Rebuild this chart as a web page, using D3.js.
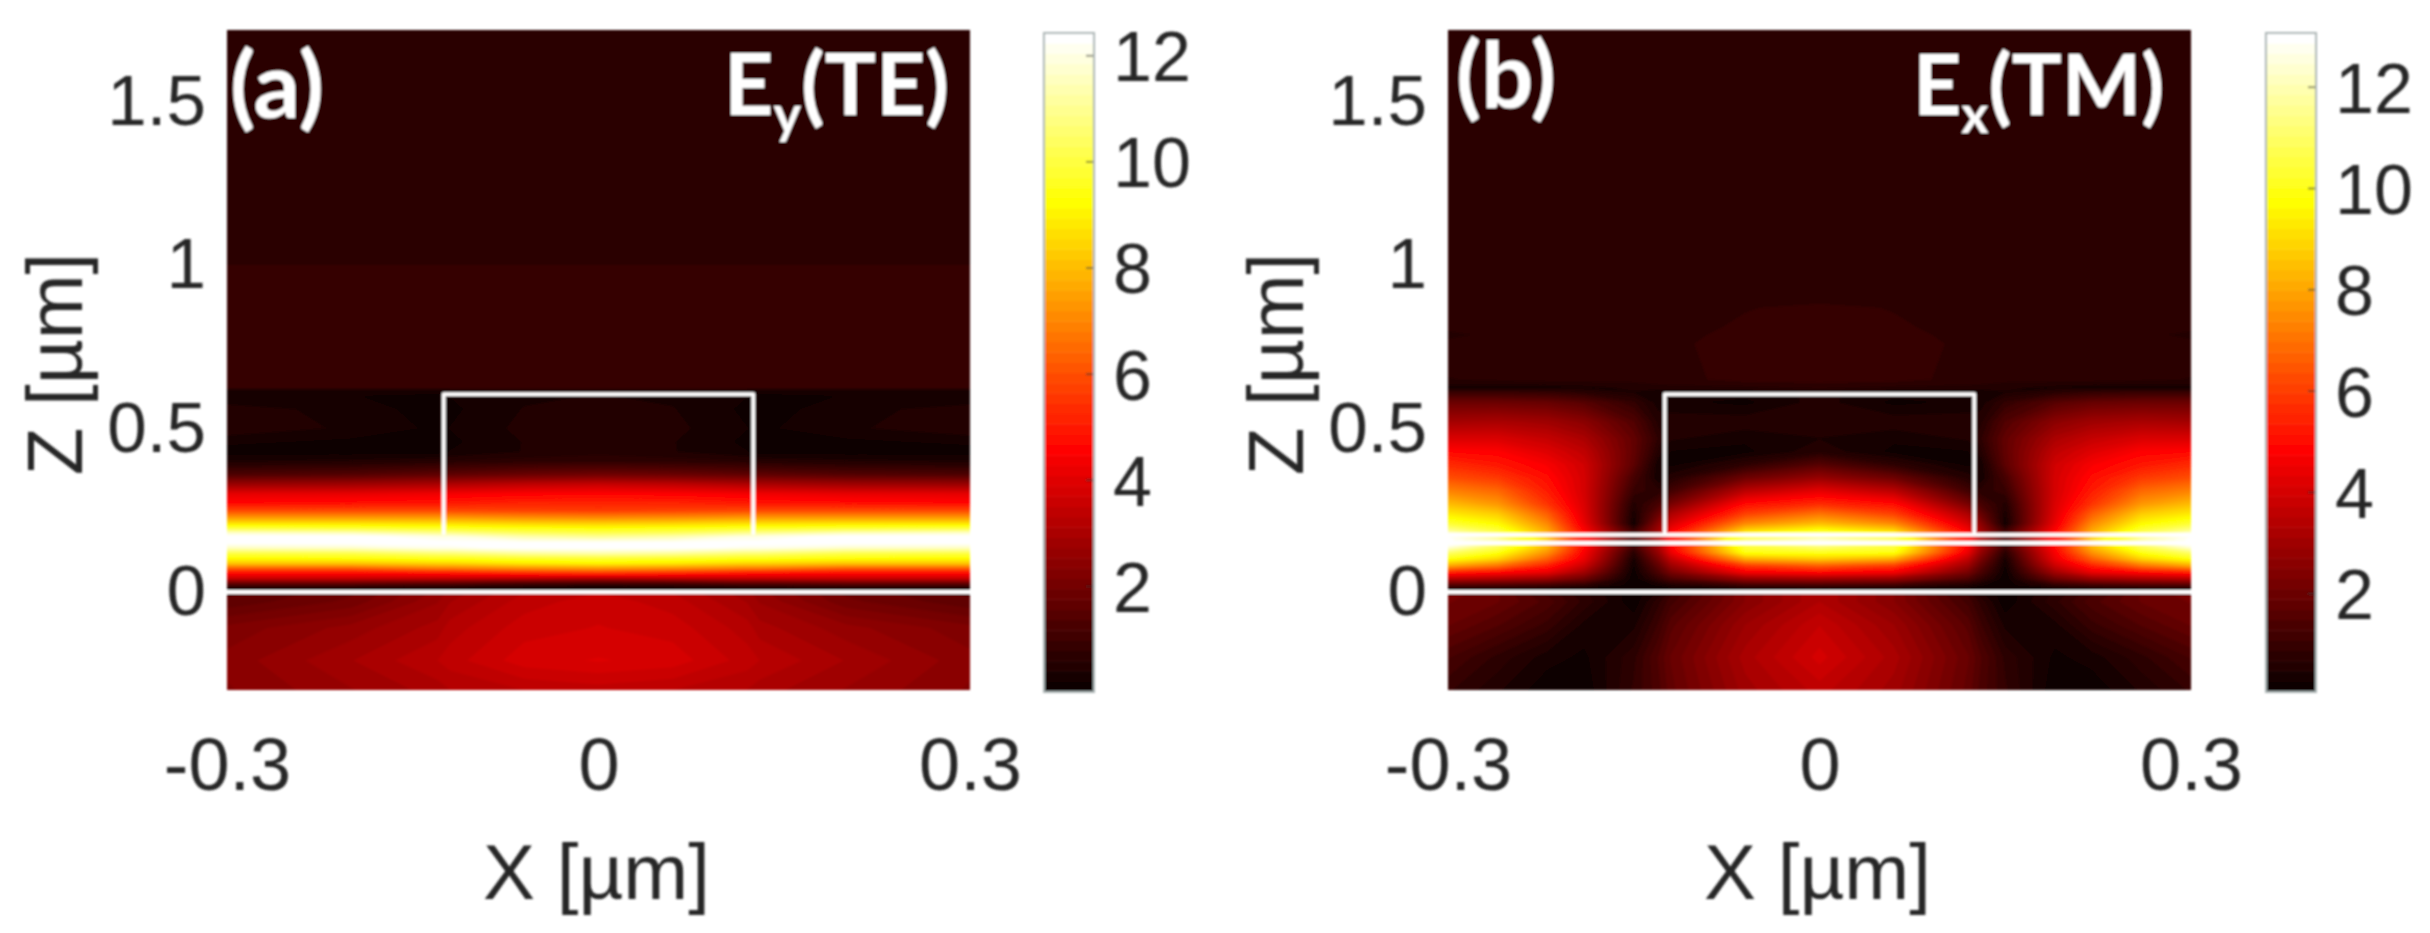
<!DOCTYPE html>
<html>
<head>
<meta charset="utf-8">
<script src="https://cdn.jsdelivr.net/npm/d3@7"></script>
<style>
  html, body { margin: 0; background: #fff; }
  text { font-family: "Liberation Sans", Arial, sans-serif; fill: #262626; }
  .note { font-family: Lato, sans-serif; font-weight: 700; fill: #fff; }
</style>
</head>
<body>
<div id="chart"></div>
<script>
const xTicks = [-0.3, 0, 0.3]
const zTicks = [0, 0.5, 1, 1.5]
const barTicks = [2, 4, 6, 8, 10, 12]
const rectX = [-0.125, 0.125]
const rectZ = [0.175, 0.605]

// |E|, rows top to bottom
const xA = [-0.3, -0.2, -0.13, -0.12, -0.06, 0, 0.06, 0.12, 0.13, 0.2, 0.3]
const zA = [1.72, 1.01, 0.99, 0.625, 0.618, 0.6, 0.56, 0.5, 0.46, 0.43, 0.4, 0.36, 0.33, 0.3, 0.275, 0.25, 0.23, 0.21, 0.195, 0.18, 0.17, 0.15, 0.135, 0.118, 0.103, 0.087, 0.073, 0.057, 0.042, 0.027, 0.012, 0.004, -0.004, -0.03, -0.11, -0.21, -0.3]
const fieldA = [
  [0.7, 0.7, 0.7, 0.7, 0.7, 0.7, 0.7, 0.7, 0.7, 0.7, 0.7],
  [0.7, 0.7, 0.7, 0.7, 0.7, 0.7, 0.7, 0.7, 0.7, 0.7, 0.7],
  [0.9, 0.9, 0.9, 0.9, 0.9, 0.9, 0.9, 0.9, 0.9, 0.9, 0.9],
  [0.9, 0.9, 0.9, 0.9, 0.9, 0.9, 0.9, 0.9, 0.9, 0.9, 0.9],
  [0.3, 0.3, 0.3, 0.4, 0.45, 0.5, 0.45, 0.4, 0.3, 0.3, 0.3],
  [0.2, 0.2, 0.15, 0.2, 0.35, 0.4, 0.35, 0.2, 0.15, 0.2, 0.2],
  [0.5, 0.3, 0.1, 0.15, 0.4, 0.5, 0.4, 0.15, 0.1, 0.3, 0.5],
  [0.55, 0.35, 0.15, 0.2, 0.45, 0.5, 0.45, 0.2, 0.15, 0.35, 0.55],
  [0.25, 0.15, 0.1, 0.15, 0.4, 0.45, 0.4, 0.15, 0.1, 0.15, 0.25],
  [0.1, 0.1, 0.1, 0.2, 0.4, 0.5, 0.4, 0.2, 0.1, 0.1, 0.1],
  [0.4, 0.45, 0.55, 0.6, 0.7, 0.75, 0.7, 0.6, 0.55, 0.45, 0.4],
  [1.3, 1.4, 1.6, 1.6, 1.8, 1.9, 1.8, 1.6, 1.6, 1.4, 1.3],
  [2.7, 2.8, 3.0, 3.1, 3.35, 3.5, 3.35, 3.1, 3.0, 2.8, 2.7],
  [4.1, 4.15, 4.3, 4.4, 4.55, 4.6, 4.55, 4.4, 4.3, 4.15, 4.1],
  [4.6, 4.7, 4.8, 4.9, 5.1, 5.1, 5.1, 4.9, 4.8, 4.7, 4.6],
  [5.8, 5.8, 5.8, 5.8, 5.7, 5.6, 5.7, 5.8, 5.8, 5.8, 5.8],
  [7.2, 7.2, 7.2, 7.2, 7.0, 6.9, 7.0, 7.2, 7.2, 7.2, 7.2],
  [8.7, 8.7, 8.6, 8.6, 8.4, 8.3, 8.4, 8.6, 8.6, 8.7, 8.7],
  [9.9, 9.8, 9.6, 9.6, 9.4, 9.3, 9.4, 9.6, 9.6, 9.8, 9.9],
  [11.8, 11.6, 11, 11, 10.4, 10.2, 10.4, 11, 11, 11.6, 11.8],
  [12.4, 12.4, 12, 12, 11.3, 11, 11.3, 12, 12, 12.4, 12.4],
  [12.4, 12.4, 12.4, 12.4, 12.4, 12.4, 12.4, 12.4, 12.4, 12.4, 12.4],
  [11.6, 11.7, 12.1, 12.1, 12.4, 12.4, 12.4, 12.1, 12.1, 11.7, 11.6],
  [10, 10.1, 10.6, 10.6, 11.1, 11.3, 11.1, 10.6, 10.6, 10.1, 10],
  [9.2, 9.3, 9.5, 9.5, 9.7, 9.8, 9.7, 9.5, 9.5, 9.3, 9.2],
  [8.1, 8.1, 8.4, 8.4, 8.8, 9, 8.8, 8.4, 8.4, 8.1, 8.1],
  [6.3, 6.3, 6.9, 6.9, 7.2, 7.4, 7.2, 6.9, 6.9, 6.3, 6.3],
  [4.6, 4.6, 4.8, 4.8, 5.2, 5.4, 5.2, 4.8, 4.8, 4.6, 4.6],
  [3.6, 3.6, 3.5, 3.5, 3.3, 3.1, 3.3, 3.5, 3.5, 3.6, 3.6],
  [1.8, 1.8, 1.6, 1.6, 1.3, 1.2, 1.3, 1.6, 1.6, 1.8, 1.8],
  [0.35, 0.35, 0.25, 0.25, 0.1, 0.05, 0.1, 0.25, 0.25, 0.35, 0.35],
  [0.6, 0.6, 0.7, 0.7, 0.8, 0.9, 0.8, 0.7, 0.7, 0.6, 0.6],
  [1.5, 1.9, 2.6, 2.8, 3.3, 3.5, 3.3, 2.8, 2.6, 1.9, 1.5],
  [1.6, 2.0, 2.7, 2.9, 3.4, 3.6, 3.4, 2.9, 2.7, 2.0, 1.6],
  [2.2, 2.6, 3.0, 3.2, 3.6, 3.7, 3.6, 3.2, 3.0, 2.6, 2.2],
  [2.4, 2.9, 3.3, 3.4, 3.8, 3.9, 3.8, 3.4, 3.3, 2.9, 2.4],
  [2.3, 2.7, 3.0, 3.1, 3.3, 3.4, 3.3, 3.1, 3.0, 2.7, 2.3]
]

// |E|, rows top to bottom
const xB = [-0.3, -0.26, -0.22, -0.19, -0.15, -0.13, -0.12, -0.06, 0, 0.06, 0.12, 0.13, 0.15, 0.19, 0.22, 0.26, 0.3]
const zB = [1.72, 0.9, 0.87, 0.81, 0.787, 0.76, 0.65, 0.625, 0.612, 0.58, 0.52, 0.47, 0.43, 0.39, 0.35, 0.31, 0.27, 0.24, 0.21, 0.19, 0.175, 0.16, 0.14, 0.12, 0.1, 0.08, 0.06, 0.04, 0.02, 0.008, -0.004, -0.03, -0.1, -0.2, -0.3]
const fieldB = [
  [0.78, 0.78, 0.78, 0.78, 0.78, 0.78, 0.78, 0.78, 0.78, 0.78, 0.78, 0.78, 0.78, 0.78, 0.78, 0.78, 0.78],
  [0.78, 0.78, 0.78, 0.78, 0.78, 0.78, 0.78, 0.78, 0.78, 0.78, 0.78, 0.78, 0.78, 0.78, 0.78, 0.78, 0.78],
  [0.78, 0.78, 0.78, 0.78, 0.78, 0.78, 0.78, 0.85, 0.92, 0.85, 0.78, 0.78, 0.78, 0.78, 0.78, 0.78, 0.78],
  [0.78, 0.78, 0.78, 0.78, 0.78, 0.78, 0.78, 0.9, 0.98, 0.9, 0.78, 0.78, 0.78, 0.78, 0.78, 0.78, 0.78],
  [0.55, 0.78, 0.78, 0.78, 0.78, 0.78, 0.78, 0.95, 1.0, 0.95, 0.78, 0.78, 0.78, 0.78, 0.78, 0.78, 0.55],
  [0.78, 0.78, 0.78, 0.78, 0.78, 0.78, 0.8, 1.0, 1.0, 1.0, 0.8, 0.78, 0.78, 0.78, 0.78, 0.78, 0.78],
  [0.65, 0.7, 0.75, 0.75, 0.75, 0.75, 0.78, 0.95, 0.98, 0.95, 0.78, 0.75, 0.75, 0.75, 0.75, 0.7, 0.65],
  [0.35, 0.35, 0.35, 0.4, 0.5, 0.6, 0.6, 0.6, 0.7, 0.6, 0.6, 0.6, 0.5, 0.4, 0.35, 0.35, 0.35],
  [1.0, 1.0, 0.9, 0.7, 0.45, 0.3, 0.3, 0.35, 0.5, 0.35, 0.3, 0.3, 0.45, 0.7, 0.9, 1.0, 1.0],
  [2.0, 2.0, 1.9, 1.6, 0.9, 0.35, 0.3, 0.2, 0.55, 0.2, 0.3, 0.35, 0.9, 1.6, 1.9, 2.0, 2.0],
  [3.1, 3.2, 3.0, 2.6, 1.5, 0.6, 0.6, 0.6, 0.65, 0.6, 0.6, 0.6, 1.5, 2.6, 3.0, 3.2, 3.1],
  [4.1, 4.1, 3.7, 3.2, 1.8, 0.8, 0.5, 0.3, 0.45, 0.3, 0.5, 0.8, 1.8, 3.2, 3.7, 4.1, 4.1],
  [4.9, 4.8, 4.2, 3.6, 1.8, 0.6, 0.25, 0.2, 0.6, 0.2, 0.25, 0.6, 1.8, 3.6, 4.2, 4.8, 4.9],
  [5.6, 5.2, 4.7, 3.9, 1.7, 0.3, 0.2, 0.8, 1.6, 0.8, 0.2, 0.3, 1.7, 3.9, 4.7, 5.2, 5.6],
  [6.3, 5.9, 5.0, 4.0, 1.3, 0.3, 0.6, 2.0, 2.8, 2.0, 0.6, 0.3, 1.3, 4.0, 5.0, 5.9, 6.3],
  [7.3, 6.8, 5.3, 4.0, 1.0, 0.7, 1.2, 3.5, 4.3, 3.5, 1.2, 0.7, 1.0, 4.0, 5.3, 6.8, 7.3],
  [8.4, 7.7, 5.8, 4.1, 0.6, 1.3, 2.2, 5.0, 5.6, 5.0, 2.2, 1.3, 0.6, 4.1, 5.8, 7.7, 8.4],
  [9.3, 8.7, 6.6, 4.2, 0.4, 1.9, 3.2, 6.0, 7.0, 6.0, 3.2, 1.9, 0.4, 4.2, 6.6, 8.7, 9.3],
  [10.3, 9.6, 7.4, 4.4, 0.3, 2.6, 4.0, 7.4, 8.4, 7.4, 4.0, 2.6, 0.3, 4.4, 7.4, 9.6, 10.3],
  [11.5, 10.4, 8, 4.8, 1.0, 3, 4.6, 8.8, 9.8, 8.8, 4.6, 3, 1.0, 4.8, 8, 10.4, 11.5],
  [12.8, 11.3, 8.4, 5.0, 1.6, 3.4, 5.0, 10.2, 11, 10.2, 5.0, 3.4, 1.6, 5.0, 8.4, 11.3, 12.8],
  [13, 12, 9, 5.2, 1.8, 3.6, 5.2, 11.4, 12.5, 11.4, 5.2, 3.6, 1.8, 5.2, 9, 12, 13],
  [12.8, 11, 8.4, 5, 1.2, 3.2, 4.8, 10.6, 11.4, 10.6, 4.8, 3.2, 1.2, 5, 8.4, 11, 12.8],
  [11, 9.9, 7.6, 4.7, 0.7, 2.8, 4.4, 9.9, 10, 9.9, 4.4, 2.8, 0.7, 4.7, 7.6, 9.9, 11],
  [9.8, 8.8, 6.6, 4.4, 0.4, 2.3, 3.6, 8, 8.6, 8, 3.6, 2.3, 0.4, 4.4, 6.6, 8.8, 9.8],
  [8.0, 7, 5.4, 3.8, 0.25, 1.8, 2.9, 5.9, 6.6, 5.9, 2.9, 1.8, 0.25, 3.8, 5.4, 7, 8.0],
  [5.4, 5, 4.4, 3, 0.15, 1.4, 2.2, 4.6, 5.0, 4.6, 2.2, 1.4, 0.15, 3, 4.4, 5, 5.4],
  [3.4, 3.2, 2.8, 2, 0.1, 0.9, 1.4, 2.8, 3.0, 2.8, 1.4, 0.9, 0.1, 2, 2.8, 3.2, 3.4],
  [1.4, 1.3, 1.1, 0.8, 0.1, 0.3, 0.5, 1.1, 1.2, 1.1, 0.5, 0.3, 0.1, 0.8, 1.1, 1.3, 1.4],
  [0.3, 0.3, 0.25, 0.2, 0.1, 0.1, 0.15, 0.2, 0.25, 0.2, 0.15, 0.1, 0.1, 0.2, 0.25, 0.3, 0.3],
  [2.2, 1.9, 1.2, 0.7, 0.1, 0.5, 1.0, 2.5, 3.3, 2.5, 1.0, 0.5, 0.1, 0.7, 1.2, 1.9, 2.2],
  [2.1, 1.9, 1.4, 0.8, 0.1, 0.8, 1.2, 2.5, 3.3, 2.5, 1.2, 0.8, 0.1, 0.8, 1.4, 1.9, 2.1],
  [1.9, 1.5, 1.0, 0.4, 0.4, 1.1, 1.6, 2.9, 3.7, 2.9, 1.6, 1.1, 0.4, 0.4, 1.0, 1.5, 1.9],
  [1.3, 0.8, 0.35, 0.2, 0.8, 1.5, 1.9, 3.2, 4.0, 3.2, 1.9, 1.5, 0.8, 0.2, 0.35, 0.8, 1.3],
  [0.9, 0.5, 0.1, 0.1, 0.9, 1.4, 1.8, 3.0, 3.6, 3.0, 1.8, 1.4, 0.9, 0.1, 0.1, 0.5, 0.9]
]

const width = 2430
const height = 933
const panelTop = 31
const panelBottom = 690
const levels = 64

// MATLAB hot, 64 steps
const hot = k => {
  const r = Math.min(1, (k + 1) / 24)
  const g = Math.min(1, Math.max(0, (k - 23) / 24))
  const b = Math.min(1, Math.max(0, (k - 47) / 16))
  return d3.rgb(r * 255, g * 255, b * 255).formatHex()
}

const svg = d3.select('#chart').append('svg').attr('width', width).attr('height', height)

svg.append('filter').attr('id', 'soft').append('feGaussianBlur').attr('stdDeviation', 0.8)

const root = svg.append('g').attr('filter', 'url(#soft)')

const drawField = (g, xs, zs, field, xScale, zScale, range) => {
  const step = (range[1] - range[0]) / levels
  const colIndex = d3.scaleLinear().domain(d3.range(xs.length)).range(xs).clamp(true)
  const rowIndex = d3.scaleLinear().domain(d3.range(zs.length)).range(zs).clamp(true)
  const projection = d3.geoTransform({
    point(col, row) {
      this.stream.point(xScale(colIndex(col - 0.5)), zScale(rowIndex(row - 0.5)))
    }
  })
  const path = d3.geoPath(projection)
  const contours = d3
    .contours()
    .size([xs.length, zs.length])
    .thresholds(d3.range(levels).map(k => range[0] + k * step))(field.flat())

  g.selectAll('path.band')
    .data(contours)
    .enter()
    .append('path')
    .attr('class', 'band')
    .attr('d', path)
    .attr('fill', (d, i) => hot(i))
}

const drawPanel = ({ left, barLeft, xs, zs, field, range, slabLines, label, labelBase, labelX, sub, tail, modeX, modeSize }) => {
  const right = left + 743
  const xScale = d3.scaleLinear().domain([-0.3, 0.3]).range([left, right])
  const zScale = d3.scaleLinear().domain([-0.3, 1.717]).range([panelBottom, panelTop])
  const g = root.append('g')

  g.append('rect')
    .attr('x', left)
    .attr('y', panelTop)
    .attr('width', right - left)
    .attr('height', panelBottom - panelTop)
    .attr('fill', '#000')

  drawField(g, xs, zs, field, xScale, zScale, range)

  // waveguide outline and interface lines
  const line = d3.line().x(d => xScale(d[0])).y(d => zScale(d[1]))
  const outline = [
    [rectX[0], rectZ[0]],
    [rectX[0], rectZ[1]],
    [rectX[1], rectZ[1]],
    [rectX[1], rectZ[0]]
  ]
  g.append('path')
    .attr('d', line(outline))
    .attr('fill', 'none')
    .attr('stroke', '#fff')
    .attr('stroke-width', 4)
    .attr('stroke-linejoin', 'round')

  g.selectAll('line.slab')
    .data(slabLines)
    .enter()
    .append('line')
    .attr('class', 'slab')
    .attr('x1', xScale(-0.3))
    .attr('x2', xScale(0.3))
    .attr('y1', d => zScale(d))
    .attr('y2', d => zScale(d))
    .attr('stroke', '#fff')
    .attr('stroke-width', 4)

  const xAxis = d3.axisBottom(xScale).tickValues(xTicks).tickSize(0).tickPadding(0).tickFormat(d => String(d))
  const xG = g.append('g').attr('transform', `translate(0,${panelBottom + 47})`).call(xAxis)
  xG.select('.domain').remove()
  xG.selectAll('text').attr('font-size', 74).attr('fill', '#262626')

  const zAxis = d3.axisLeft(zScale).tickValues(zTicks).tickSize(0).tickPadding(21).tickFormat(d => String(d))
  const zG = g.append('g').attr('transform', `translate(${left},0)`).call(zAxis)
  zG.select('.domain').remove()
  zG.selectAll('text').attr('font-size', 71).attr('fill', '#262626')

  g.append('text')
    .attr('x', left + 369.5)
    .attr('y', 899)
    .attr('text-anchor', 'middle')
    .attr('font-size', 78)
    .text('X [µm]')

  g.append('text')
    .attr('transform', `translate(${left - 145},364) rotate(-90)`)
    .attr('text-anchor', 'middle')
    .attr('font-size', 78)
    .text('Z [µm]')

  g.append('text')
    .attr('class', 'note')
    .attr('x', labelX)
    .attr('y', labelBase)
    .attr('font-size', 92)
    .text(label)

  const modeText = g.append('text')
    .attr('class', 'note')
    .attr('x', modeX)
    .attr('y', 115)
    .attr('font-size', modeSize)
  modeText.append('tspan').text('E')
  modeText.append('tspan').attr('dy', 18).attr('font-size', 52).text(sub)
  modeText.append('tspan').attr('dy', -18).text(tail)

  // colour bar
  const barScale = d3.scaleLinear().domain(range).range([692, 33])
  const step = (range[1] - range[0]) / levels
  const barG = g.append('g')
  barG.selectAll('rect')
    .data(d3.range(levels))
    .enter()
    .append('rect')
    .attr('x', barLeft)
    .attr('width', 50)
    .attr('y', k => barScale(range[0] + (k + 1) * step))
    .attr('height', k => barScale(range[0] + k * step) - barScale(range[0] + (k + 1) * step) + 0.5)
    .attr('fill', hot)

  const barAxis = d3.axisRight(barScale).tickValues(barTicks).tickSizeInner(-8).tickSizeOuter(0).tickPadding(19).tickFormat(d => String(d))
  const barAxisG = g.append('g').attr('transform', `translate(${barLeft + 50},0)`).call(barAxis)
  barAxisG.select('.domain').remove()
  barAxisG.selectAll('line').attr('stroke', '#333').attr('stroke-opacity', 0.55).attr('stroke-width', 2)
  barAxisG.selectAll('text').attr('font-size', 70).attr('transform', 'translate(0,3)').attr('fill', '#262626')

  g.append('rect')
    .attr('x', barLeft)
    .attr('y', 33)
    .attr('width', 50)
    .attr('height', 659)
    .attr('fill', 'none')
    .attr('stroke', '#aab4b4')
    .attr('stroke-width', 2)
}

drawPanel({
  left: 227, barLeft: 1044, xs: xA, zs: zA, field: fieldA, range: [0, 12.42],
  slabLines: [0], label: '(a)', labelBase: 118, labelX: 230, sub: 'y', tail: '(TE)', modeX: 724, modeSize: 86
})

drawPanel({
  left: 1448, barLeft: 2266, xs: xB, zs: zB, field: fieldB, range: [0.05, 13.06],
  slabLines: [0, 0.15, 0.175], label: '(b)', labelBase: 108, labelX: 1456, sub: 'x', tail: '(TM)', modeX: 1913, modeSize: 84
})
</script>
</body>
</html>
